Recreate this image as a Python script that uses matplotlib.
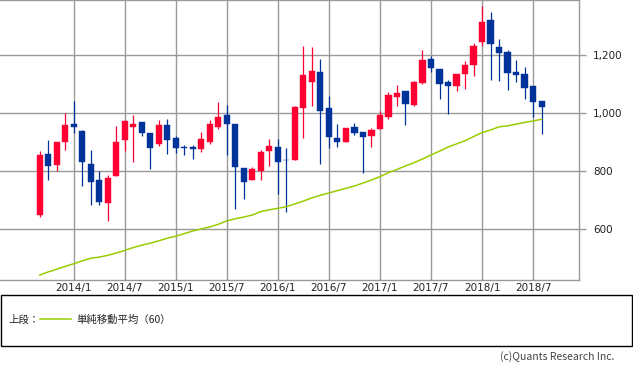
import matplotlib
matplotlib.use("Agg")
import matplotlib.pyplot as plt
from matplotlib.patches import Rectangle
from matplotlib.lines import Line2D
import numpy as np

# ---- data (monthly, 2013/9 .. 2018/8) ----
months = [f"{y}/{m}" for y in range(2013, 2019) for m in range(1, 13)][8:68]
open_ = [649, 860, 823, 899, 964, 940, 825, 770, 692, 784, 906, 954, 970, 932, 894, 960, 914, 883, 885, 877,
         902, 954, 995, 961, 811, 770, 802, 868, 884, 840, 837, 1019, 1109, 1142, 1018, 915, 902, 953, 936, 923,
         947, 988, 1057, 1077, 1029, 1103, 1188, 1153, 1106, 1095, 1136, 1167, 1246, 1322, 1229, 1211, 1142, 1136, 1094, 1042]
close = [856, 818, 899, 960, 954, 833, 764, 695, 776, 900, 973, 963, 930, 881, 960, 908, 881, 880, 878, 911,
         962, 988, 961, 815, 764, 807, 867, 887, 830, 838, 1022, 1132, 1146, 1009, 919, 902, 949, 933, 919, 943,
         994, 1061, 1071, 1030, 1106, 1184, 1154, 1100, 1092, 1136, 1167, 1232, 1315, 1237, 1207, 1140, 1133, 1087, 1037, 1022]
high = [870, 908, 902, 1002, 1042, 942, 873, 799, 787, 956, 975, 994, 970, 933, 977, 980, 922, 891, 891, 934,
        977, 1037, 1029, 961, 811, 814, 873, 912, 911, 879, 1025, 1232, 1229, 1187, 1060, 963, 950, 966, 936, 950,
        1006, 1073, 1098, 1077, 1111, 1216, 1198, 1153, 1115, 1136, 1180, 1243, 1370, 1347, 1256, 1218, 1184, 1160, 1094, 1042]
low = [642, 768, 799, 873, 933, 749, 684, 684, 630, 784, 868, 830, 923, 808, 888, 860, 862, 856, 842, 867,
       893, 945, 856, 671, 704, 768, 770, 819, 722, 661, 837, 916, 1025, 826, 880, 885, 899, 926, 795, 885,
       947, 981, 1025, 960, 1025, 1101, 1143, 1049, 997, 1075, 1084, 1129, 1232, 1115, 1111, 1080, 1108, 1049, 987, 929]
sma60 = [442, 453, 462, 472, 481, 491, 500, 504, 510, 518, 527, 537, 545, 552, 560, 569, 576, 585, 594, 601,
         608, 617, 629, 636, 642, 649, 661, 667, 672, 678, 687, 697, 708, 717, 725, 733, 741, 749, 759, 770,
         781, 795, 806, 818, 829, 842, 856, 869, 883, 894, 905, 919, 933, 942, 953, 956, 962, 968, 973, 979]
tick_labels = ["2014/1", "2014/7", "2015/1", "2015/7", "2016/1", "2016/7", "2017/1", "2017/7", "2018/1", "2018/7"]
y_ticks = [600, 800, 1000, 1200]

UP = "#ff0033"
DOWN = "#003399"
MA = "#99cc00"
GRID = "#999999"

W, H = 633, 370
fig = plt.figure(figsize=(W / 100, H / 100), dpi=100)
ax = fig.add_axes([0 / W, 1 - 280 / H, 579 / W, 280 / H])

x = np.arange(len(months))
o = np.array(open_); c = np.array(close)
colors = [UP if cc >= oo else DOWN for oo, cc in zip(o, c)]

ax.vlines(x, low, high, colors=colors, linewidth=0.9, zorder=3)
bottoms = np.minimum(o, c)
heights = np.maximum(np.abs(c - o), 1.5)
ax.bar(x, heights, bottom=bottoms, width=0.72, color=colors, edgecolor=colors, linewidth=0.3, zorder=4)
ax.plot(x, sma60, color=MA, linewidth=1.1, zorder=5)

tick_pos = [months.index(t) for t in tick_labels]
ax.set_xticks(tick_pos)
ax.set_xticklabels(tick_labels)
ax.set_xlim(-4.67, 63.4)
ax.set_ylim(425, 1390)
ax.set_yticks(y_ticks)
ax.set_yticklabels([f"{v:,}" for v in y_ticks])
ax.yaxis.tick_right()
ax.grid(True, color=GRID, linewidth=1.0, zorder=0)
ax.set_axisbelow(True)
ax.tick_params(axis="y", length=5, color=GRID, width=1.0, labelsize=7.5, pad=5, labelcolor="#222222")
ax.tick_params(axis="x", length=0, labelsize=7.5, pad=2, labelcolor="#222222")
for s in ["top", "right", "bottom"]:
    ax.spines[s].set_color(GRID)
    ax.spines[s].set_linewidth(1.0)
ax.spines["left"].set_visible(False)

# legend box
fig.patches.append(Rectangle((1 / W, 1 - 346 / H), 631 / W, 51 / H, transform=fig.transFigure,
                             fill=False, edgecolor="black", linewidth=1.0))
jp = ["Noto Sans CJK JP", "DejaVu Sans"]
fig.text(8 / W, 1 - 320 / H, "上段：", family=jp, fontsize=7.5, va="center", ha="left", color="#222222")
fig.lines.append(Line2D([40 / W, 71 / W], [1 - 319 / H, 1 - 319 / H], transform=fig.transFigure,
                        color=MA, linewidth=1.1))
fig.text(76 / W, 1 - 320 / H, "単純移動平均（60）", family=jp, fontsize=7.5, va="center", ha="left", color="#222222")
fig.text(614 / W, 1 - 357 / H, "(c)Quants Research Inc.", family=jp, fontsize=7.5, va="center", ha="right",
         color="#444444")

fig.savefig("out.png", dpi=100)
